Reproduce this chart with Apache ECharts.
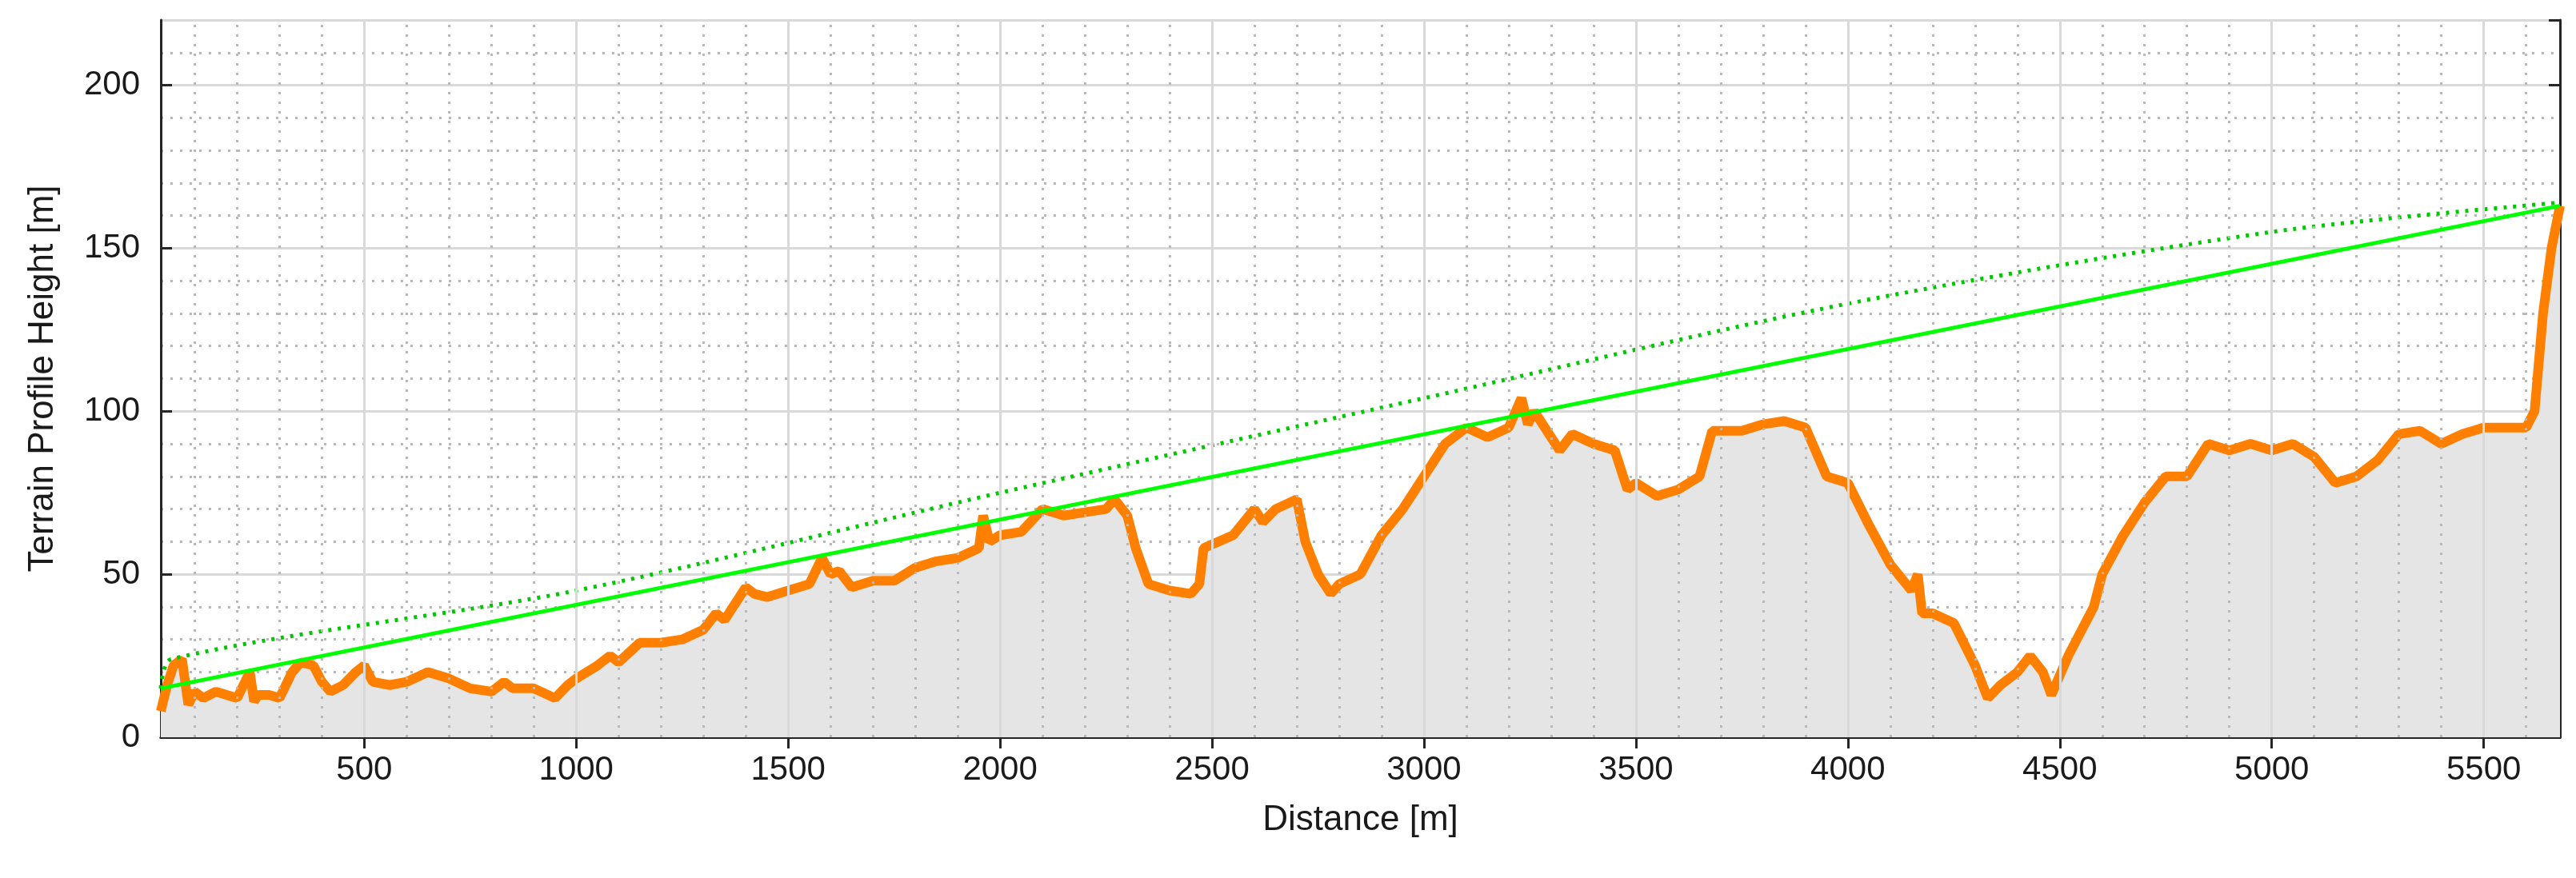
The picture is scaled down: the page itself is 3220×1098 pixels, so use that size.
<!DOCTYPE html>
<html>
<head>
<meta charset="utf-8">
<script src="https://cdn.jsdelivr.net/npm/echarts@6/dist/echarts.min.js"></script>
<style>html,body{margin:0;padding:0;background:#fff}#chart{width:3220px;height:1098px}</style>
</head>
<body>
<div id="chart"></div>
<script>
// terrain profile
var distance = [20,35,50,70,85,100,120,150,175,200,230,240,250,275,300,330,350,380,400,420,450,480,500,520,560,600,650,700,750,800,830,850,900,950,980,1000,1050,1080,1100,1150,1200,1250,1300,1330,1350,1400,1420,1450,1500,1550,1580,1600,1620,1650,1700,1750,1800,1850,1900,1950,1960,1975,2000,2050,2100,2150,2200,2250,2270,2300,2320,2350,2400,2450,2470,2480,2550,2600,2620,2650,2700,2720,2750,2780,2800,2850,2900,2950,3000,3050,3100,3150,3200,3230,3245,3260,3300,3320,3350,3400,3450,3470,3480,3500,3550,3600,3650,3680,3750,3800,3850,3900,3950,4000,4050,4100,4150,4165,4175,4200,4250,4300,4330,4360,4400,4430,4460,4480,4520,4580,4600,4650,4700,4750,4800,4850,4900,4950,5000,5050,5100,5150,5200,5250,5300,5350,5400,5450,5500,5600,5620,5640,5660,5680];
var height = [8,16,22,24,10,14,12,14,13,12,20,11,13,13,12,20,23,22,17,14,16,20,22,17,16,17,20,18,15,14,17,15,15,12,16,18,22,25,23,29,29,30,33,38,36,46,44,43,45,47,55,50,51,46,48,48,52,54,55,58,68,60,62,63,70,68,69,70,73,68,58,47,45,44,47,58,62,70,66,70,73,60,50,44,47,50,62,70,80,90,95,92,95,104,96,100,92,88,93,90,88,80,76,78,74,76,80,94,94,96,97,95,80,78,65,53,45,50,38,38,35,22,12,16,20,25,20,13,25,40,50,62,72,80,80,90,88,90,88,90,86,78,80,85,93,94,90,93,95,95,100,130,150,163];
var losLine = [[20,15],[5680,163]];
var fresnelLine = [[20,15],[45,24],[1000,45],[2000,75],[3000,104],[4000,133],[5000,155],[5680,164]];
var xTicks = [500,1000,1500,2000,2500,3000,3500,4000,4500,5000,5500];
var xMinor = [];
for (var v = 100; v < 5680; v += 100) { if (v % 500 !== 0) xMinor.push(v); }

var chart = echarts.init(document.getElementById('chart'));
var font = 'Liberation Sans, Arial, sans-serif';
var xBase = {
    type: 'value', min: 20, max: 5680,
    axisLine: {show: true, lineStyle: {color: '#262626', width: 3}},
    axisTick: {show: true, inside: true, length: 14, customValues: xTicks, lineStyle: {color: '#262626', width: 3}},
    splitLine: {show: false}
};
var yBase = {
    type: 'value', min: 0, max: 220, interval: 50,
    axisLine: {show: true, lineStyle: {color: '#262626', width: 3}},
    axisTick: {show: true, inside: true, length: 14, lineStyle: {color: '#262626', width: 3}}
};
var option = {
    animation: false,
    grid: {left: 201, right: 20, top: 25, bottom: 176},
    xAxis: [
        Object.assign({}, xBase, {
            position: 'bottom',
            name: 'Distance [m]', nameLocation: 'middle', nameGap: 82,
            nameTextStyle: {fontFamily: font, fontSize: 44, color: '#1a1a1a'},
            axisLabel: {customValues: xTicks, formatter: function (v) { return String(v); },
                fontFamily: font, fontSize: 42, color: '#1a1a1a', margin: 20}
        }),
        Object.assign({}, xBase, {position: 'top', axisLabel: {show: false}})
    ],
    yAxis: [
        Object.assign({}, yBase, {
            position: 'left',
            name: 'Terrain Profile Height [m]', nameLocation: 'middle', nameGap: 125,
            nameTextStyle: {fontFamily: font, fontSize: 44, color: '#1a1a1a'},
            axisLabel: {fontFamily: font, fontSize: 42, color: '#1a1a1a', margin: 26, showMaxLabel: false},
            splitLine: {show: true, lineStyle: {color: '#d9d9d9', width: 3}},
            minorTick: {show: false, splitNumber: 5},
            minorSplitLine: {show: true, lineStyle: {color: '#b8b8b8', width: 3, type: [3, 9]}}
        }),
        Object.assign({}, yBase, {position: 'right', axisLabel: {show: false}, splitLine: {show: false}})
    ],
    series: [
        {
            type: 'line', data: [], silent: true,
            markLine: {
                symbol: 'none', silent: true, label: {show: false},
                data: xMinor.map(function (x) { return {xAxis: x, lineStyle: {color: '#b8b8b8', width: 3, type: [3, 9]}}; })
                    .concat(xTicks.map(function (x) { return {xAxis: x, lineStyle: {color: '#d9d9d9', width: 3, type: 'solid'}}; }))
            }
        },
        {
            type: 'line', showSymbol: false, silent: true,
            data: distance.map(function (d, i) { return [d, height[i]]; }),
            lineStyle: {color: '#ff8000', width: 12},
            areaStyle: {color: '#e5e5e5', opacity: 1},
            z: 3
        },
        {
            type: 'line', showSymbol: false, silent: true, data: fresnelLine, smooth: 0.3,
            lineStyle: {color: '#00c800', width: 5, type: [4, 8]}, z: 4
        },
        {
            type: 'line', showSymbol: false, silent: true, data: losLine,
            lineStyle: {color: '#00ff00', width: 5}, z: 5
        }
    ]
};
chart.setOption(option);
</script>
</body>
</html>
